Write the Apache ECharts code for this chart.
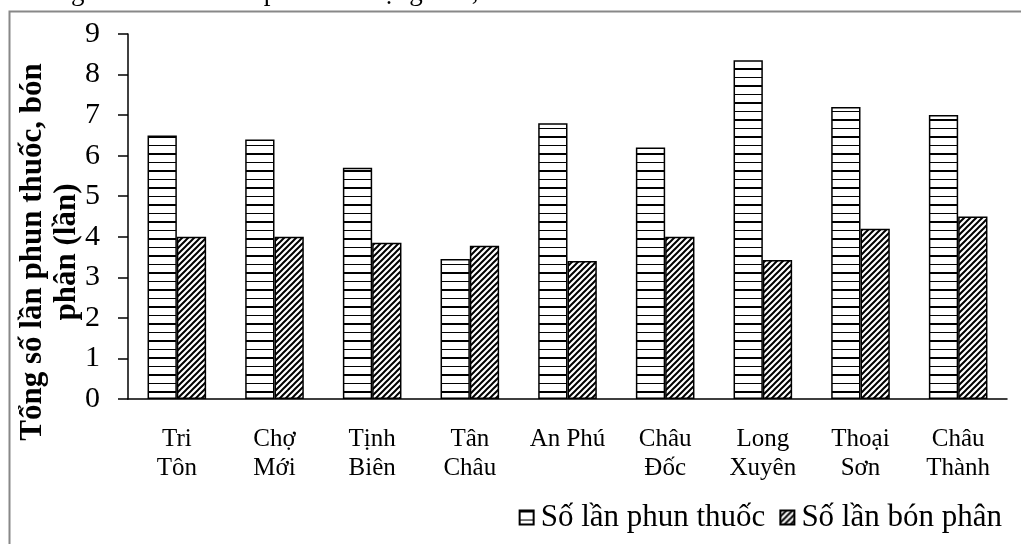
<!DOCTYPE html>
<html>
<head>
<meta charset="utf-8">
<script src="https://cdn.jsdelivr.net/npm/echarts@6/dist/echarts.min.js"></script>
<style>
html,body{margin:0;padding:0;background:#fff;}
#c{width:1021px;height:544px;}
</style>
</head>
<body>
<div id="c"></div>
<script>
const categories = ['Tri\nTôn','Chợ\nMới','Tịnh\nBiên','Tân\nChâu','An Phú','Châu\nĐốc','Long\nXuyên','Thoại\nSơn','Châu\nThành'];
const sprayCounts = [6.5, 6.4, 5.7, 3.45, 6.8, 6.2, 8.35, 7.2, 7.0];
const fertCounts = [4.0, 4.0, 3.85, 3.78, 3.4, 4.0, 3.43, 4.2, 4.5];
const seriesNames = ['Số lần phun thuốc', 'Số lần bón phân'];
const yTitle = 'Tổng số lần phun thuốc, bón\nphân (lần)';
const topText = 'a. Trung bình số lần bón phân dao động từ 3,4';

const FONT = '"Liberation Serif","Times New Roman",serif';

function hPattern(){
  const c = document.createElement('canvas');
  c.width = 4; c.height = 17;
  const g = c.getContext('2d');
  g.fillStyle = '#fff'; g.fillRect(0,0,4,17);
  g.fillStyle = '#000';
  g.fillRect(0,0,4,2);
  g.fillRect(0,9,4,1);
  return c;
}
function dPattern(){
  const c = document.createElement('canvas');
  c.width = 6; c.height = 6;
  const g = c.getContext('2d');
  g.fillStyle = '#fff'; g.fillRect(0,0,6,6);
  g.strokeStyle = '#000'; g.lineWidth = 2;
  g.beginPath();
  g.moveTo(-1,1); g.lineTo(1,-1);
  g.moveTo(0,6); g.lineTo(6,0);
  g.moveTo(5,7); g.lineTo(7,5);
  g.stroke();
  return c;
}

const chart = echarts.init(document.getElementById('c'), null, {renderer:'canvas'});
chart.setOption({
  animation:false,
  backgroundColor:'#fff',
  grid:{left:128, right:14, top:34, bottom:145, containLabel:false},
  legend:{
    right:14, bottom:6,
    icon:'rect',
    itemWidth:14, itemHeight:14, itemGap:14,
    textStyle:{fontFamily:FONT, fontSize:31, color:'#000', padding:[0,0,0,2]},
    data:seriesNames
  },
  xAxis:{
    type:'category',
    data:categories,
    axisLine:{lineStyle:{color:'#000', width:1.5}},
    axisTick:{show:false},
    axisLabel:{color:'#000', fontFamily:FONT, fontSize:25, lineHeight:29, margin:26, interval:0}
  },
  yAxis:{
    type:'value', min:0, max:9, interval:1,
    axisLine:{show:true, lineStyle:{color:'#000', width:1.5}},
    axisTick:{show:true, length:10, lineStyle:{color:'#000', width:1.5}},
    splitLine:{show:false},
    axisLabel:{color:'#000', fontFamily:FONT, fontSize:30, margin:28}
  },
  series:[
    {name:seriesNames[0], type:'bar', data:sprayCounts, barGap:'0%', barCategoryGap:'40%',
     itemStyle:{color:{image:hPattern(), repeat:'repeat'}, borderColor:'#000', borderWidth:1.5}},
    {name:seriesNames[1], type:'bar', data:fertCounts,
     itemStyle:{color:{image:dPattern(), repeat:'repeat'}, borderColor:'#000', borderWidth:1.5}}
  ],
  graphic:[
    {type:'rect', left:7, top:9, shape:{x:0,y:0,width:1040,height:560},
     style:{fill:null, stroke:'#888', lineWidth:2}, z:-1},
    {type:'text', x:-6, y:6, style:{text:topText, font:'27px '+FONT, fill:'#000', textVerticalAlign:'bottom'}},
    {type:'text', x:50, y:252, rotation:Math.PI/2,
     style:{text:yTitle, font:'bold 31px '+FONT, fill:'#000', textAlign:'center', textVerticalAlign:'middle', lineHeight:34}}
  ]
});
</script>
</body>
</html>
